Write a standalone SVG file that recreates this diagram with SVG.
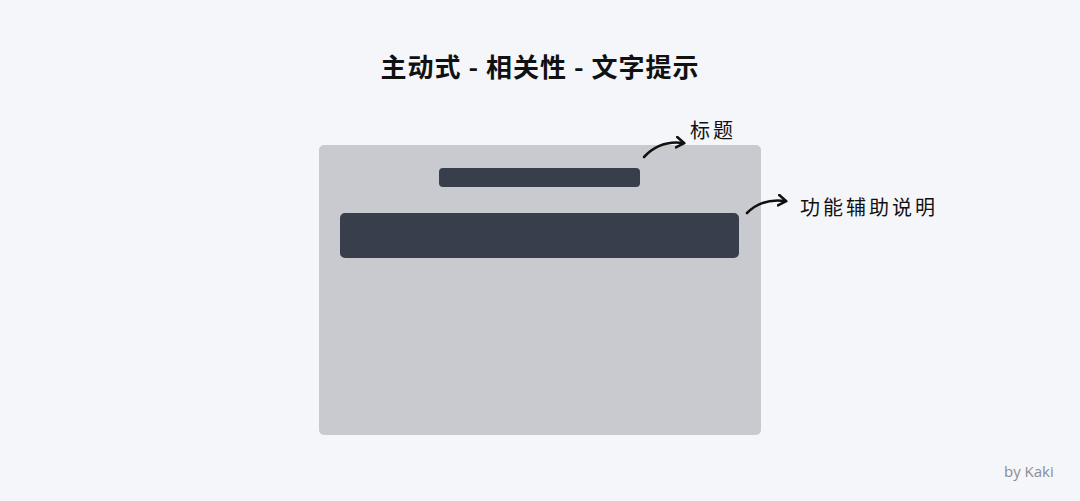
<svg xmlns="http://www.w3.org/2000/svg" width="1080" height="501" viewBox="0 0 1080 501">
<style>
.title{font-family:"Noto Sans CJK SC","Noto Sans",sans-serif;font-weight:700;font-size:26px;fill:#111;letter-spacing:1px}
.lbl{font-family:"Noto Sans CJK SC",sans-serif;font-size:20px;fill:#111;letter-spacing:3px}
.bar{fill:#393e4c}
.arr{fill:none;stroke:#111;stroke-width:2.6;stroke-linecap:round}
</style>
<defs>
<marker id="ah" viewBox="0 0 10 10" refX="6" refY="5" markerWidth="5" markerHeight="5" orient="auto" markerUnits="strokeWidth">
<path d="M1,1 L7,5 L1,9" fill="none" stroke="#111" stroke-width="2" stroke-linecap="round" stroke-linejoin="round"/>
</marker>
</defs>
<rect width="1080" height="501" fill="#f5f6fa"/>
<text class="title" x="540" y="77" text-anchor="middle">主动式 - 相关性 - 文字提示</text>
<g id="panel">
<rect x="319" y="145" width="442" height="290" rx="5" fill="#c9cacf"/>
</g>
<g id="titlebar"><rect class="bar" x="439" y="168" width="201" height="19" rx="4"/></g>
<g id="descbar"><rect class="bar" x="340" y="213" width="399" height="45" rx="5"/></g>
<g id="label-title"><text class="lbl" x="690" y="138">标题</text></g>
<g id="label-desc"><text class="lbl" x="800" y="215">功能辅助说明</text></g>
<g id="connectors">
<path class="arr" d="M644,157 Q660,140 683,143" marker-end="url(#ah)"/>
<path class="arr" d="M747,213 Q762,198 785,201" marker-end="url(#ah)"/>
</g>
<text x="1004" y="477" font-family="'Open Sans','Noto Sans',sans-serif" font-size="15" fill="#8a8d96">by Kaki</text>
</svg>
